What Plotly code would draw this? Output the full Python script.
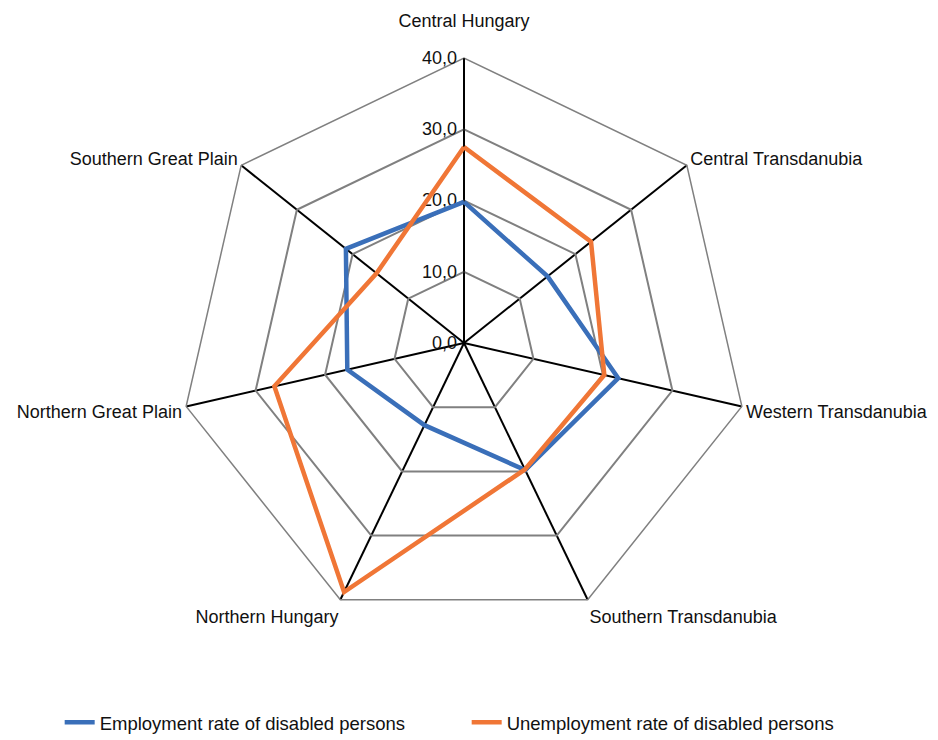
import plotly.graph_objects as go

# regions, clockwise from the top
regions = [
    'Central Hungary',
    'Central Transdanubia',
    'Western Transdanubia',
    'Southern Transdanubia',
    'Northern Hungary',
    'Northern Great Plain',
    'Southern Great Plain',
]

employment = [19.8, 15.0, 22.2, 19.8, 12.8, 16.8, 21.2]
unemployment = [27.5, 22.8, 20.2, 19.7, 38.8, 27.3, 15.7]

radial_ticks = [0, 10, 20, 30, 40]

font_name = 'Liberation Sans, Arial, sans-serif'

fig = go.Figure()
fig.add_trace(go.Scatterpolar(
    r=employment + employment[:1],
    theta=regions + regions[:1],
    mode='lines',
    line=dict(color='#3a6fb9', width=4.5),
    name='Employment rate of disabled persons',
))
fig.add_trace(go.Scatterpolar(
    r=unemployment + unemployment[:1],
    theta=regions + regions[:1],
    mode='lines',
    line=dict(color='#f07636', width=4.5),
    name='Unemployment rate of disabled persons',
))

# top label sits a bit higher in the original
tick_text = [regions[0] + '<br> '] + regions[1:]

fig.update_layout(
    width=938,
    height=740,
    margin=dict(l=0, r=0, t=0, b=0),
    paper_bgcolor='white',
    plot_bgcolor='white',
    separators=',.',
    font=dict(family=font_name, size=18, color='#111111'),
    showlegend=True,
    legend=dict(
        orientation='h',
        x=0.489, xanchor='center',
        y=0.034, yanchor='middle',
        font=dict(size=18.5),
        entrywidth=362,
        entrywidthmode='pixels',
    ),
    polar=dict(
        domain=dict(x=[171 / 938, 741 / 938], y=[120 / 740, 690 / 740]),
        bgcolor='white',
        gridshape='linear',
        radialaxis=dict(
            range=[0, 40],
            tickvals=radial_ticks,
            tickformat='.1f',
            angle=90,
            tickangle=90,
            side='counterclockwise',
            showline=True,
            linecolor='black',
            linewidth=1.5,
            gridcolor='#808080',
            gridwidth=1.5,
            ticks='',
            tickfont=dict(size=18),
            layer='below traces',
        ),
        angularaxis=dict(
            direction='clockwise',
            rotation=90,
            tickvals=regions,
            ticktext=tick_text,
            showline=True,
            linecolor='#808080',
            linewidth=1.5,
            gridcolor='black',
            gridwidth=1.5,
            ticks='',
            tickfont=dict(size=18),
            layer='below traces',
        ),
    ),
)

fig.write_html('out.html')
